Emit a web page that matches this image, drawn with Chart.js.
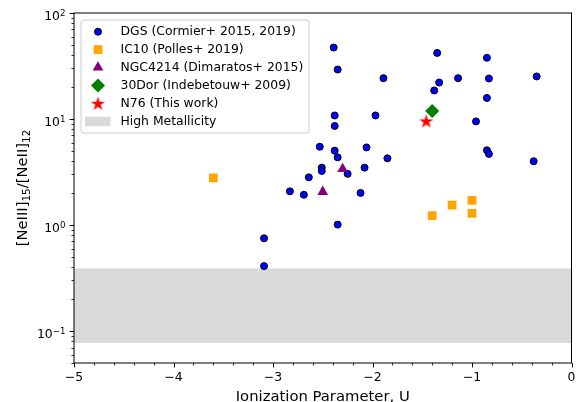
<!DOCTYPE html>
<html>
<head>
<meta charset="utf-8">
<script src="https://cdn.jsdelivr.net/npm/chart.js@4/dist/chart.umd.min.js"></script>
<style>
html, body { margin: 0; padding: 0; background: #fff; }
canvas { display: block; }
</style>
</head>
<body>
<canvas id="neChart" width="579" height="402"></canvas>
<script>
// DGS galaxies (Cormier+ 2015, 2019)
const dgsU = [-2.39, -2.35, -1.89, -1.35, -0.85, -0.35, -1.33, -1.14, -0.83, -1.38,
              -0.85, -2.38, -1.97, -2.38, -0.96, -2.53, -2.38, -2.06, -2.35, -1.85,
              -0.85, -0.83, -0.38, -2.51, -2.51, -2.64, -2.08, -2.25, -2.83, -2.69,
              -2.12, -2.35, -3.09, -3.09];
const dgsRatio = [47.2, 29.3, 24.3, 42.0, 37.8, 25.2, 22.1, 24.3, 24.1, 18.6,
                  15.8, 10.8, 10.8, 8.6, 9.5, 5.48, 5.03, 5.4, 4.35, 4.26,
                  5.07, 4.69, 4.0, 3.48, 3.24, 2.82, 3.48, 3.04, 2.08, 1.93,
                  2.01, 1.01, 0.75, 0.41];
// IC10 (Polles+ 2019)
const ic10U = [-3.6, -1.4, -1.2, -1.0, -1.0];
const ic10Ratio = [2.79, 1.23, 1.54, 1.71, 1.29];
// NGC4214 (Dimaratos+ 2015)
const ngcU = [-2.3, -2.5];
const ngcRatio = [3.39, 2.06];
// 30Dor (Indebetouw+ 2009)
const dorU = [-1.4];
const dorRatio = [11.9];
// N76 (this work)
const n76U = [-1.46];
const n76Ratio = [9.6];
// high metallicity band
const highZRange = [0.077, 0.39];

const xRange = [-5, 0];
const yRange = [0.05, 100];
const xTicks = [-5, -4, -3, -2, -1, 0];
const yTicks = [0.1, 1, 10, 100];
const yTickExps = ['\u22121', '0', '1', '2'];   // shown as 10^exp
const xTitle = 'Ionization Parameter, U';
const yTitleParts = [['[NeIII]', false], ['15', true], ['/[NeII]', false], ['12', true]];

const pts = (xs, ys) => xs.map((x, i) => ({x: x, y: ys[i]}));
const FONT = '"DejaVu Sans"';

// filled matplotlib-like star marker
function makeStar(R, color) {
  const c = document.createElement('canvas');
  const s = Math.ceil(R * 2 + 2);
  c.width = s; c.height = s;
  const g = c.getContext('2d');
  const cx = s / 2, cy = s / 2 + 0.7;
  g.beginPath();
  for (let i = 0; i < 10; i++) {
    const r = i % 2 === 0 ? R : R * 0.382;
    const a = -Math.PI / 2 + i * Math.PI / 5;
    const px = cx + r * Math.cos(a), py = cy + r * Math.sin(a);
    if (i === 0) g.moveTo(px, py); else g.lineTo(px, py);
  }
  g.closePath();
  g.fillStyle = color;
  g.fill();
  return c;
}
const starImg = makeStar(7.5, '#ff0000');

Chart.defaults.font.family = 'DejaVu Sans';
Chart.defaults.font.size = 12.4;
Chart.defaults.color = '#000';

// box around the plot + outward ticks (major and minor)
const frameTicks = {
  id: 'frameTicks',
  afterDatasetsDraw(chart) {
    const ctx = chart.ctx, a = chart.chartArea;
    const xs = chart.scales.x, ys = chart.scales.y;
    ctx.save();
    ctx.strokeStyle = '#000';
    ctx.lineWidth = 1;
    ctx.strokeRect(a.left, a.top, a.right - a.left, a.bottom - a.top);
    for (let v = xRange[0]; v <= xRange[1] + 1e-9; v += 0.2) {
      const major = Math.abs(v - Math.round(v)) < 1e-6;
      const px = Math.round(xs.getPixelForValue(v)) + 0.5;
      ctx.lineWidth = major ? 1 : 0.8;
      ctx.beginPath();
      ctx.moveTo(px, a.bottom);
      ctx.lineTo(px, a.bottom + (major ? 4.4 : 2.5));
      ctx.stroke();
    }
    for (let d = -2; d <= 2; d++) {
      for (let m = 1; m <= 9; m++) {
        const v = m * Math.pow(10, d);
        if (v < yRange[0] - 1e-9 || v > yRange[1] + 1e-9) continue;
        const major = m === 1;
        const py = Math.round(ys.getPixelForValue(v)) + 0.5;
        ctx.lineWidth = major ? 1 : 0.8;
        ctx.beginPath();
        ctx.moveTo(a.left, py);
        ctx.lineTo(a.left - (major ? 4.4 : 2.5), py);
        ctx.stroke();
      }
    }
    ctx.restore();
  }
};

// 10^n tick labels and axis titles with sub/superscripts
const mathText = {
  id: 'mathText',
  afterDraw(chart) {
    const ctx = chart.ctx, a = chart.chartArea, ys = chart.scales.y;
    ctx.save();
    ctx.fillStyle = '#000';
    ctx.textBaseline = 'alphabetic';
    ctx.textAlign = 'left';
    yTicks.forEach((v, i) => {
      const py = ys.getPixelForValue(v);
      ctx.font = '12.4px ' + FONT;
      const wb = ctx.measureText('10').width;
      ctx.font = '8.7px ' + FONT;
      const we = ctx.measureText(yTickExps[i]).width;
      const x0 = a.left - 8.5 - we - wb;
      ctx.font = '12.4px ' + FONT;
      ctx.fillText('10', x0, py + 6.5);
      ctx.font = '8.7px ' + FONT;
      ctx.fillText(yTickExps[i], x0 + wb, py + 2.5);
    });

    ctx.font = '14.8px ' + FONT;
    ctx.textAlign = 'center';
    ctx.fillText(xTitle, (a.left + a.right) / 2, 400.5);

    ctx.textAlign = 'left';
    let total = 0;
    const widths = yTitleParts.map(([t, sub]) => {
      ctx.font = (sub ? '10.4px ' : '14.8px ') + FONT;
      const w = ctx.measureText(t).width;
      total += w;
      return w;
    });
    ctx.translate(26.7, (a.top + a.bottom) / 2);
    ctx.rotate(-Math.PI / 2);
    let x = -total / 2;
    yTitleParts.forEach(([t, sub], i) => {
      ctx.font = (sub ? '10.4px ' : '14.8px ') + FONT;
      ctx.fillText(t, x, sub ? 3 : 0);
      x += widths[i];
    });
    ctx.restore();
  }
};

// matplotlib style legend in the upper left corner
const boxLegend = {
  id: 'boxLegend',
  afterDraw(chart) {
    const ctx = chart.ctx;
    const x0 = 81, y0 = 20, w = 228, h = 113, rr = 3;
    ctx.save();
    ctx.beginPath();
    ctx.moveTo(x0 + rr, y0);
    ctx.arcTo(x0 + w, y0, x0 + w, y0 + h, rr);
    ctx.arcTo(x0 + w, y0 + h, x0, y0 + h, rr);
    ctx.arcTo(x0, y0 + h, x0, y0, rr);
    ctx.arcTo(x0, y0, x0 + w, y0, rr);
    ctx.closePath();
    ctx.fillStyle = 'rgba(255,255,255,0.8)';
    ctx.fill();
    ctx.strokeStyle = '#cccccc';
    ctx.lineWidth = 1;
    ctx.stroke();

    let row = 0;
    chart.data.datasets.forEach(ds => {
      if (!ds.label || ds.label.startsWith('_')) return;
      const y = 31.7 + row * 17.9;
      if (ds.type === 'line') {
        ctx.fillStyle = ds.backgroundColor;
        ctx.fillRect(85, y - 4.5, 25.5, 9.5);
      } else {
        ctx.fillStyle = ds.pointBackgroundColor;
        ctx.strokeStyle = ds.pointBorderColor;
        ctx.lineWidth = ds.pointBorderWidth;
        Chart.helpers.drawPoint(ctx, {
          pointStyle: ds.pointStyle, radius: ds.pointRadius,
          borderWidth: ds.pointBorderWidth, rotation: 0
        }, 98, y);
      }
      ctx.fillStyle = '#000';
      ctx.font = '12.4px ' + FONT;
      ctx.textBaseline = 'middle';
      ctx.textAlign = 'left';
      ctx.fillText(ds.label, 120.5, y + 0.5);
      row++;
    });
    ctx.restore();
  }
};

new Chart(document.getElementById('neChart'), {
  type: 'scatter',
  data: {
    datasets: [
      { label: 'DGS (Cormier+ 2015, 2019)', data: pts(dgsU, dgsRatio), pointStyle: 'circle',
        pointRadius: 3.5, pointBackgroundColor: '#0000ff', pointBorderColor: '#000000',
        pointBorderWidth: 1, order: 5 },
      { label: 'IC10 (Polles+ 2019)', data: pts(ic10U, ic10Ratio), pointStyle: 'rect',
        pointRadius: 6.2, pointBackgroundColor: '#ffa500', pointBorderColor: '#ffa500',
        pointBorderWidth: 0, order: 4 },
      { label: 'NGC4214 (Dimaratos+ 2015)', data: pts(ngcU, ngcRatio), pointStyle: 'triangle',
        pointRadius: 6.2, pointBackgroundColor: '#800080', pointBorderColor: '#800080',
        pointBorderWidth: 0, order: 3 },
      { label: '30Dor (Indebetouw+ 2009)', data: pts(dorU, dorRatio), pointStyle: 'rectRot',
        pointRadius: 7, pointBackgroundColor: '#008000', pointBorderColor: '#008000',
        pointBorderWidth: 0, order: 2 },
      { label: 'N76 (This work)', data: pts(n76U, n76Ratio), pointStyle: starImg,
        pointRadius: 7.5, pointBackgroundColor: '#ff0000', pointBorderColor: '#ff0000',
        pointBorderWidth: 0, order: 1 },
      { type: 'line', label: 'High Metallicity',
        data: [{x: xRange[0], y: highZRange[1]}, {x: xRange[1], y: highZRange[1]}],
        borderColor: 'rgba(0,0,0,0)', backgroundColor: '#d9d9d9', pointRadius: 0,
        fill: '+1', order: 10 },
      { type: 'line', label: '_band_low',
        data: [{x: xRange[0], y: highZRange[0]}, {x: xRange[1], y: highZRange[0]}],
        borderColor: 'rgba(0,0,0,0)', pointRadius: 0, fill: false, order: 11 }
    ]
  },
  options: {
    responsive: false,
    animation: false,
    devicePixelRatio: 1,
    layout: { padding: { top: 13, right: 6, left: 0, bottom: 0 } },
    plugins: { legend: { display: false }, tooltip: { enabled: false } },
    scales: {
      x: {
        type: 'linear', min: xRange[0], max: xRange[1],
        grid: { display: false, drawTicks: false },
        border: { display: false },
        afterBuildTicks: s => { s.ticks = xTicks.map(v => ({value: v})); },
        afterFit: s => { s.height = 39; s.paddingLeft = 0; s.paddingRight = 0; },
        ticks: { padding: 7, maxRotation: 0, callback: v => String(v).replace('-', '\u2212') }
      },
      y: {
        type: 'logarithmic', min: yRange[0], max: yRange[1],
        grid: { display: false, drawTicks: false },
        border: { display: false },
        afterBuildTicks: s => { s.ticks = yTicks.map(v => ({value: v})); },
        afterFit: s => { s.width = 74; s.paddingTop = 0; s.paddingBottom = 0; },
        ticks: { display: false }
      }
    }
  },
  plugins: [frameTicks, mathText, boxLegend]
});
</script>
</body>
</html>
